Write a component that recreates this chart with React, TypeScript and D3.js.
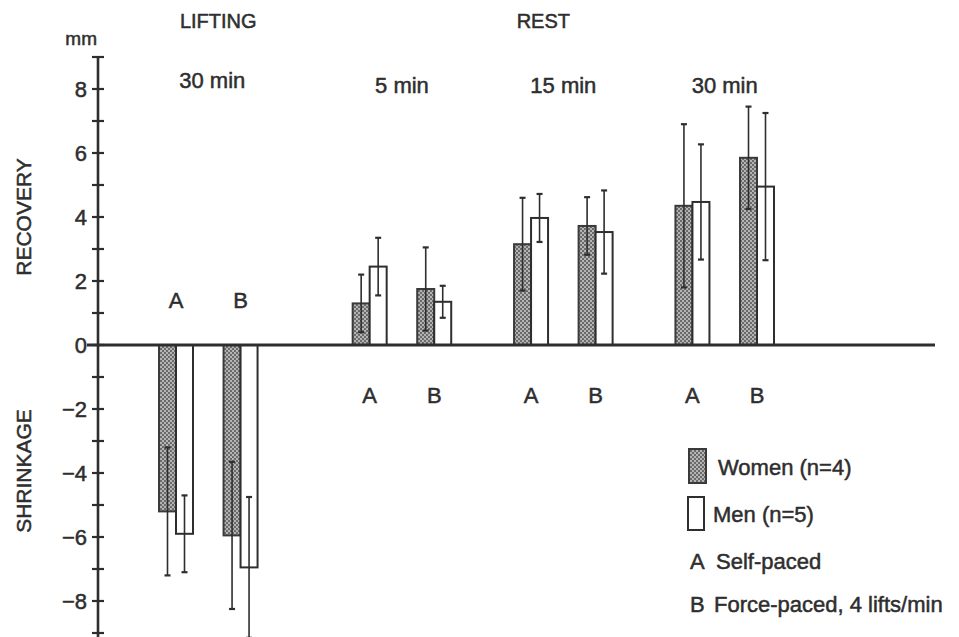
import React from 'react';
import * as d3 from 'd3';

// sessions (time after start) and their phase
const sessions = ['lift30', 'rest5', 'rest15', 'rest30'];
const sessionLabels = ['30 min', '5 min', '15 min', '30 min'];
const sessionPhase = ['LIFTING', 'REST', 'REST', 'REST'];
const paces = ['A', 'B'];

// order: lift30 A, lift30 B, rest5 A, rest5 B, rest15 A, rest15 B, rest30 A, rest30 B
const womenMean = [-5.2, -5.95, 1.3, 1.75, 3.15, 3.72, 4.35, 5.85];
const womenSD = [2.0, 2.3, 0.9, 1.3, 1.45, 0.9, 2.55, 1.6];
const menMean = [-5.9, -6.95, 2.45, 1.35, 3.97, 3.53, 4.47, 4.95];
const menSD = [1.2, 2.2, 0.9, 0.5, 0.75, 1.3, 1.8, 2.3];

const yTicks = d3.range(-9, 10);
const yLabels = [8, 6, 4, 2, 0, -2, -4, -6, -8];

const legendItems = ['Women (n=4)', 'Men (n=5)'];
const paceNames = ['Self-paced', 'Force-paced, 4 lifts/min'];

const W = 959;
const H = 637;
const INK = '#2e2e2e';
const FONT = '"Liberation Sans", Arial, Helvetica, sans-serif';

export default function App() {
  const y = d3.scaleLinear().domain([-9, 9]).range([633, 57]);
  const axisX = 98;

  // lifting group sits a bit further from the rest groups
  const slot = (s: number, p: number) => p + s * 2.5 + (s > 0 ? 0.5 : 0);
  const x = d3.scaleLinear().domain([0, 9]).range([176, 757]);
  const barW = 17;

  const rows = sessions.flatMap((s, si) =>
    paces.map((p, pi) => {
      const i = si * 2 + pi;
      return { s, si, p, pi, cx: x(slot(si, pi)), w: womenMean[i], wsd: womenSD[i], m: menMean[i], msd: menSD[i] };
    })
  );

  const sessionCenter = (si: number) => (x(slot(si, 0)) + x(slot(si, 1))) / 2;
  const restCenters = sessions.map((_, i) => i).filter((i) => sessionPhase[i] === 'REST').map(sessionCenter);
  const phaseX: Record<string, number> = {
    LIFTING: sessionCenter(0) + 10,
    REST: d3.mean(restCenters)! - 20,
  };

  const textStyle = { fontFamily: FONT, fill: INK, stroke: INK, strokeWidth: 0.5 } as const;
  const fs = 22;

  const errBar = (cx: number, mean: number, sd: number, key: string) => {
    const y1 = y(mean + sd);
    const y2 = y(mean - sd);
    return (
      <g key={key} stroke={INK} strokeWidth={1.6}>
        <line x1={cx} x2={cx} y1={y1} y2={y2} />
        <line x1={cx - 3} x2={cx + 3} y1={y1} y2={y1} strokeWidth={2.2} />
        <line x1={cx - 3} x2={cx + 3} y1={y2} y2={y2} strokeWidth={2.2} />
      </g>
    );
  };

  return (
    <svg width={W} height={H} style={{ position: 'absolute', left: 0, top: 0, background: '#fff' }}>
      <defs>
        <pattern id="stipple" width={4} height={4} patternUnits="userSpaceOnUse">
          <rect width={4} height={4} fill="#b4b4b4" />
          <circle cx={1} cy={1} r={0.95} fill="#4a4a4a" />
          <circle cx={3} cy={3} r={0.95} fill="#4a4a4a" />
        </pattern>
      </defs>

      {/* phase and session labels */}
      {['LIFTING', 'REST'].map((ph) => (
        <text key={ph} x={phaseX[ph]} y={28} textAnchor="middle" fontSize={20} {...textStyle}>
          {ph}
        </text>
      ))}
      {sessionLabels.map((l, si) => (
        <text key={si} x={sessionCenter(si) + (si === 0 ? 4 : 0)} y={si === 0 ? 88 : 93} textAnchor="middle" fontSize={fs} {...textStyle}>
          {l}
        </text>
      ))}

      {/* y axis */}
      <text x={97} y={45} textAnchor="end" fontSize={19} {...textStyle}>mm</text>
      <line x1={axisX} x2={axisX} y1={y(9)} y2={H} stroke={INK} strokeWidth={2.6} />
      {yTicks.map((t) => (
        <line key={t} x1={axisX - 6} x2={axisX + 6} y1={y(t)} y2={y(t)} stroke={INK} strokeWidth={2.2} />
      ))}
      {yLabels.map((t) => (
        <text key={t} x={87} y={y(t)} dy="0.36em" textAnchor="end" fontSize={fs} {...textStyle}>
          {t < 0 ? `\u2212${-t}` : t}
        </text>
      ))}
      <text transform={`translate(31,217) rotate(-90)`} textAnchor="middle" fontSize={21} {...textStyle}>RECOVERY</text>
      <text transform={`translate(31,471) rotate(-90)`} textAnchor="middle" fontSize={21} {...textStyle}>SHRINKAGE</text>

      {/* bars */}
      {rows.map((r) => (
        <g key={`${r.s}-${r.p}`}>
          <rect
            x={r.cx - barW}
            y={Math.min(y(r.w), y(0))}
            width={barW}
            height={Math.abs(y(r.w) - y(0))}
            fill="url(#stipple)"
            stroke="#3a3a3a"
            strokeWidth={2}
          />
          <rect
            x={r.cx}
            y={Math.min(y(r.m), y(0))}
            width={barW}
            height={Math.abs(y(r.m) - y(0))}
            fill="#fff"
            stroke={INK}
            strokeWidth={2}
          />
          {errBar(r.cx - barW / 2, r.w, r.wsd, 'w')}
          {errBar(r.cx + barW / 2, r.m, r.msd, 'm')}
          <text
            x={r.cx}
            y={r.w < 0 ? y(0) - 37 : y(0) + 58}
            textAnchor="middle"
            fontSize={fs}
            {...textStyle}
          >
            {r.p}
          </text>
        </g>
      ))}

      {/* zero line */}
      <line x1={axisX - 11} x2={935} y1={y(0)} y2={y(0)} stroke={INK} strokeWidth={3} />

      {/* legend */}
      <g>
        <rect x={689} y={449} width={17} height={34} fill="url(#stipple)" stroke="#3a3a3a" strokeWidth={2} />
        <text x={718} y={475} fontSize={fs} {...textStyle}>{legendItems[0]}</text>
        <rect x={688} y={497} width={16} height={33} fill="#fff" stroke={INK} strokeWidth={2} />
        <text x={713} y={522} fontSize={fs} {...textStyle}>{legendItems[1]}</text>
        {paces.map((p, i) => (
          <g key={p}>
            <text x={690} y={569 + i * 43} fontSize={fs} {...textStyle}>{p}</text>
            <text x={716 - i * 2} y={569 + i * 43} fontSize={fs} {...textStyle}>{paceNames[i]}</text>
          </g>
        ))}
      </g>
    </svg>
  );
}
